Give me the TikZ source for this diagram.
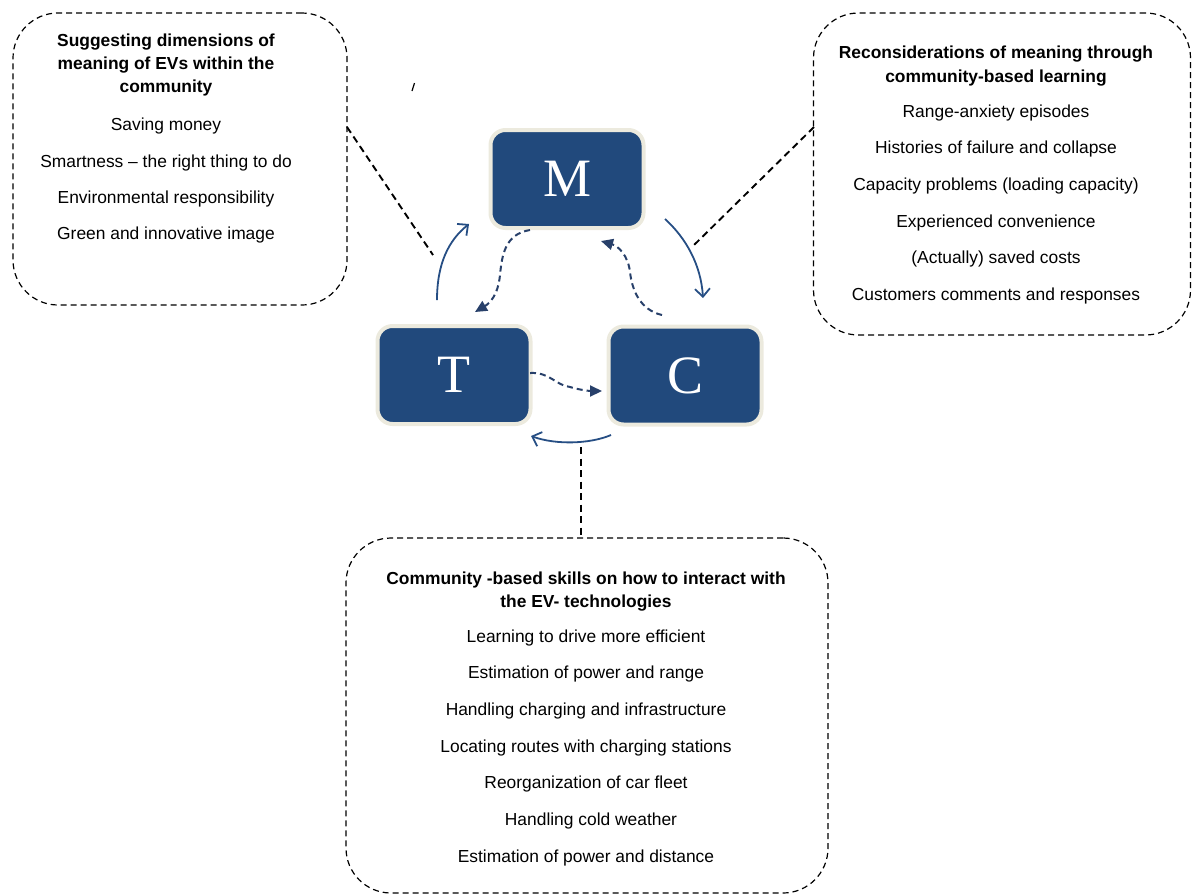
\documentclass[tikz,border=0pt]{standalone}
\usepackage{fontspec}
\newfontfamily\sansf{Liberation Sans}
\newfontfamily\seriff{Liberation Serif}
\usetikzlibrary{arrows.meta}
\definecolor{boxblue}{RGB}{33,73,124}
\definecolor{cream}{RGB}{236,234,222}
\definecolor{arrblue}{RGB}{38,78,132}
\definecolor{dashblue}{RGB}{40,64,106}
\begin{document}
\begin{tikzpicture}[x=1pt,y=-1pt,
  letterbox/.style={draw=cream, line width=4pt, fill=boxblue, rounded corners=15pt,
    minimum width=153pt, minimum height=98pt, text=white, inner sep=0pt,
    font=\seriff\fontsize{54}{54}\selectfont},
  infobox/.style={draw=black, line width=1.2pt, dash pattern=on 6pt off 4pt,
    rounded corners=45pt, inner sep=0pt},
  head/.style={font=\sansf\bfseries\fontsize{17.4}{20}\selectfont, anchor=base, inner sep=0pt},
  item/.style={font=\sansf\fontsize{17.4}{20}\selectfont, anchor=base, inner sep=0pt},
  link/.style={draw=black, line width=1.9pt, dash pattern=on 7pt off 4.5pt},
  cyc/.style={draw=arrblue, line width=1.8pt, -{Straight Barb[length=8pt,width=15pt,line width=1.8pt]}},
  flow/.style={draw=dashblue, line width=2pt, dash pattern=on 6pt off 4pt,
    -{Triangle[length=12pt,width=11pt]}}
]
\useasboundingbox (0,0) rectangle (1193,895);

% dashed information boxes
\node[infobox, minimum width=334pt, minimum height=292pt] (leftbox) at (180,159) {};
\node[infobox, minimum width=377pt, minimum height=322pt] (rightbox) at (1002,174) {};
\node[infobox, minimum width=482pt, minimum height=355pt] (bottombox) at (587,715.5) {};

% left box text
\node[head] (lh1) at (166,46.5) {Suggesting dimensions of};
\node[head] (lh2) at (166,69.5) {meaning of EVs within the};
\node[head] (lh3) at (166,92.5) {community};
\node[item] (li1) at (166,130) {Saving money};
\node[item] (li2) at (166,167) {Smartness – the right thing to do};
\node[item] (li3) at (166,203.5) {Environmental responsibility};
\node[item] (li4) at (166,239.5) {Green and innovative image};

% right box text
\node[head] (rh1) at (996,58) {Reconsiderations of meaning through};
\node[head] (rh2) at (996,82) {community-based learning};
\node[item] (ri1) at (996,117) {Range-anxiety episodes};
\node[item] (ri2) at (996,153.5) {Histories of failure and collapse};
\node[item] (ri3) at (996,190) {Capacity problems (loading capacity)};
\node[item] (ri4) at (996,227) {Experienced convenience};
\node[item] (ri5) at (996,263) {(Actually) saved costs};
\node[item] (ri6) at (996,300) {Customers comments and responses};

% bottom box text
\node[head] (bh1) at (586,584) {Community -based skills on how to interact with};
\node[head] (bh2) at (586,607) {the EV- technologies};
\node[item] (bi1) at (586,642) {Learning to drive more efficient};
\node[item] (bi2) at (586,678.5) {Estimation of power and range};
\node[item] (bi3) at (586,715) {Handling charging and infrastructure};
\node[item] (bi4) at (586,752) {Locating routes with charging stations};
\node[item] (bi5) at (586,788.5) {Reorganization of car fleet};
\node[item] (bi6) at (591,825) {Handling cold weather};
\node[item] (bi7) at (586,862) {Estimation of power and distance};

% letter boxes
\node[letterbox] (M) at (567,179) {M};
\node[letterbox] (T) at (454,375) {T};
\node[letterbox] (C) at (685,375.5) {C};

% named connector end points
\coordinate (l1) at (347,127);
\coordinate (l2) at (433,255);
\coordinate (r1) at (814,127);
\coordinate (r2) at (692,247);
\coordinate (b1) at (581,447);
\coordinate (b2) at (581,538);
\coordinate (tm1) at (437,300);
\coordinate (tm2) at (469,224);
\coordinate (mc1) at (665,219);
\coordinate (mc2) at (703,298);
\coordinate (ct1) at (611,435);
\coordinate (ct2) at (531,436);
\coordinate (dmt1) at (530,230);
\coordinate (dmt2) at (475,312);
\coordinate (dcm1) at (662,315);
\coordinate (dcm2) at (601,241);
\coordinate (dtc1) at (530,373);
\coordinate (dtc2) at (602,391);
\coordinate (s1) at (412,91);
\coordinate (s2) at (414.5,83);

% black dashed links
\draw[link] (l1) -- (l2);
\draw[link] (r1) -- (r2);
\draw[link] (b1) -- (b2);

% stray mark
\draw[line width=1.2pt] (s1) -- (s2);

% solid cycle arrows
\draw[cyc] (tm1) .. controls (437,263) and (449,240) .. (tm2);
\draw[cyc] (mc1) .. controls (686,238) and (701,265) .. (mc2);
\draw[cyc] (ct1) .. controls (590,444) and (556,445) .. (ct2);

% dashed flow arrows
\draw[flow] (dmt1) .. controls (505,234) and (502,255) .. (500,275)
  .. controls (498,295) and (490,303) .. (dmt2);
\draw[flow] (dcm1) .. controls (640,310) and (632,290) .. (630,272)
  .. controls (628,255) and (618,246) .. (dcm2);
\draw[flow] (dtc1) .. controls (550,372) and (555,385) .. (570,387)
  .. controls (580,390) and (590,391) .. (dtc2);
\end{tikzpicture}
\end{document}
